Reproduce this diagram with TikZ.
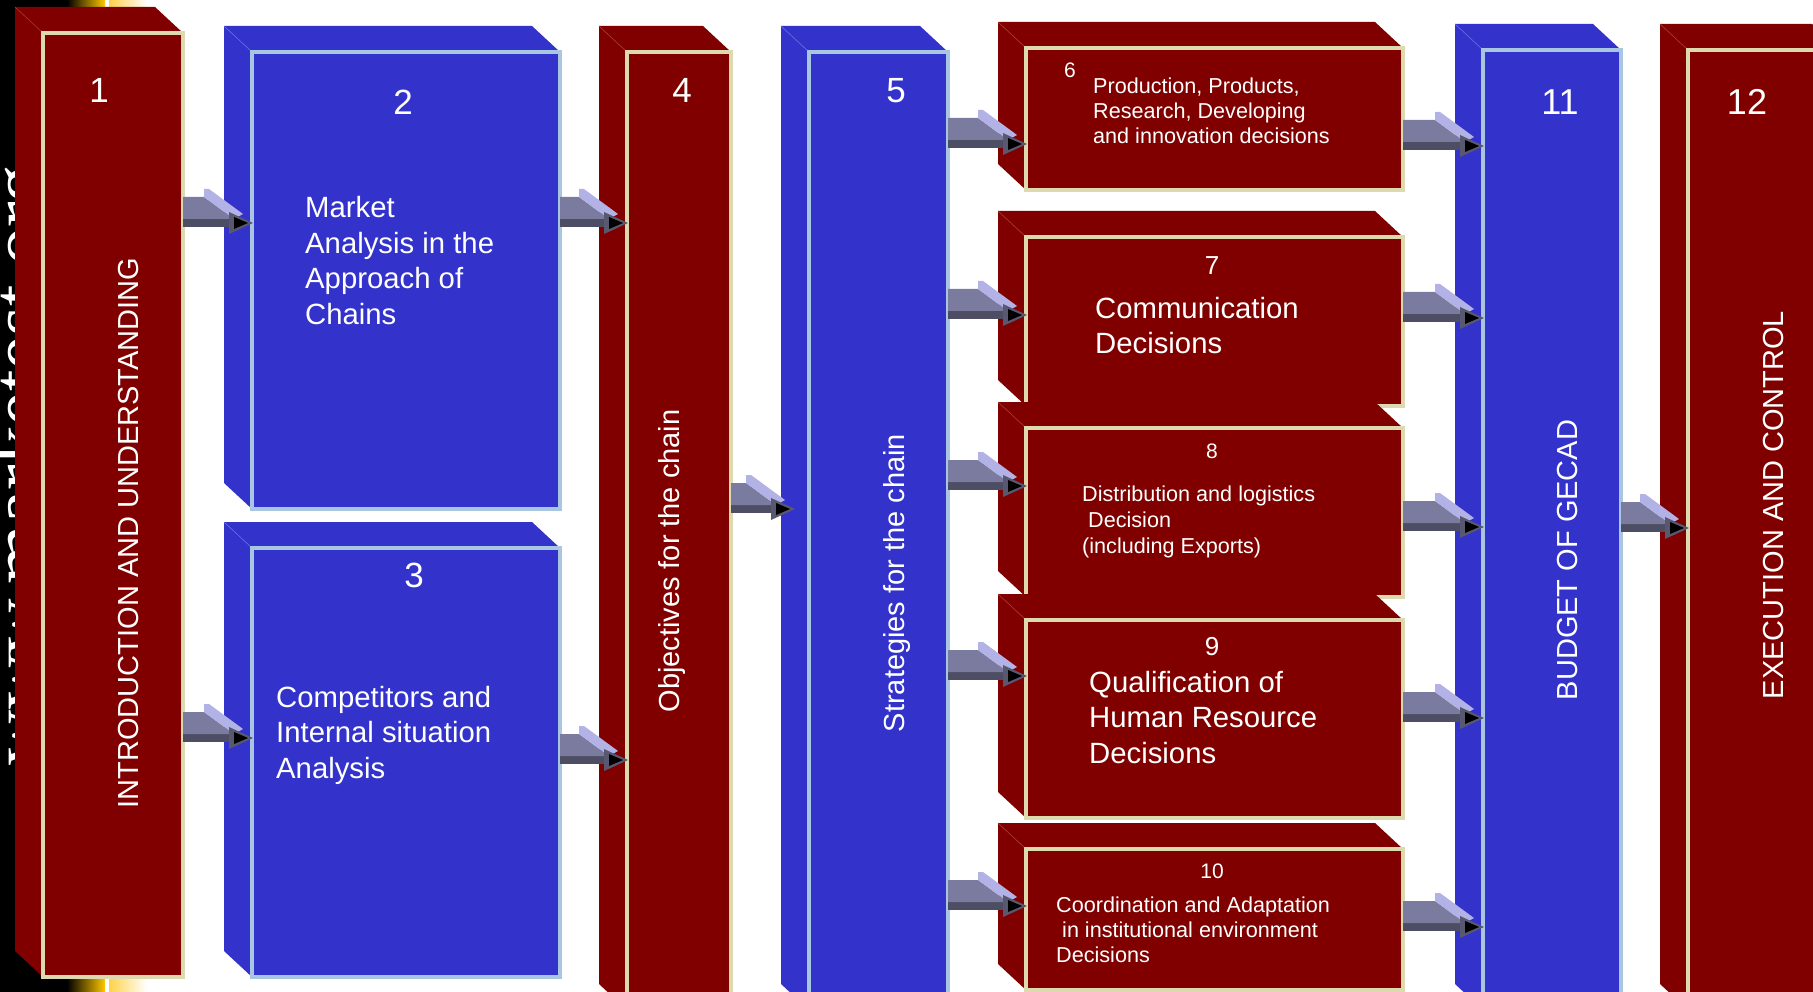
\documentclass[tikz,border=0pt]{standalone}
\usepackage{fontspec}
\setmainfont{Liberation Sans}
\newfontfamily\wmfont{Liberation Serif}
\usetikzlibrary{calc}
\definecolor{mar}{HTML}{800000}
\definecolor{blu}{HTML}{3333CC}
\definecolor{beige}{HTML}{DEDAB0}
\definecolor{lblue}{HTML}{A8C6E2}
\definecolor{marline}{HTML}{A83A30}
\definecolor{bluline}{HTML}{6A6AE0}
\definecolor{arrbody}{HTML}{7B7BA0}
\definecolor{arrlight}{HTML}{B2B2E6}
\definecolor{arrdark}{HTML}{4D4D63}
\definecolor{arrhead}{HTML}{585870}
\definecolor{yel}{HTML}{FFC800}
\definecolor{yel2}{HTML}{FFD24A}
\tikzset{
  marface/.style={fill=mar},
  bluface/.style={fill=blu},
  maredge/.style={draw=marline, line width=0.6pt},
  bluedge/.style={draw=bluline, line width=0.6pt},
  marfront/.style={rectangle, fill=mar, draw=beige, line width=4pt, inner sep=0pt, outer sep=0pt},
  blufront/.style={rectangle, fill=blu, draw=lblue, line width=4pt, inner sep=0pt, outer sep=0pt},
  bignum/.style={text=white, inner sep=0pt, anchor=base, font=\fontsize{35}{40}\selectfont},
  midnum/.style={text=white, inner sep=0pt, anchor=base, font=\fontsize{26}{30}\selectfont},
  smallnum/.style={text=white, inner sep=0pt, anchor=base, font=\fontsize{21}{25}\selectfont},
  lbl/.style={text=white, inner sep=0pt, anchor=base west, font=\fontsize{29.3}{35}\selectfont},
  slbl/.style={text=white, inner sep=0pt, anchor=base west, font=\fontsize{21.6}{25}\selectfont},
  vlbl/.style={text=white, inner sep=0pt, rotate=90, anchor=base, font=\fontsize{29}{35}\selectfont},
}
% cuboid: name, x1, y1, x2, y2 (front face), kind (mar/blu)
\newcommand\cbox[6]{%
  \fill[#6face] (#2,#3) -- ({#2-28},{#3-26}) -- ({#4-28},{#3-26}) -- (#4,#3) -- cycle;
  \fill[#6face] (#2,#3) -- ({#2-28},{#3-26}) -- ({#2-28},{#5-26}) -- (#2,#5) -- cycle;
  \draw[#6edge] ({#2-28},{#3-26}) -- (#2,#3);
  \node[#6front, minimum width={#4-#2}, minimum height={#5-#3}, anchor=north west] (#1) at (#2,#3) {};
}
% grey 3D arrow from tail point to tip point (same height)
\newcommand\grar[2]{%
  \path let \p1=(#1), \p2=(#2) in coordinate (aS) at (\x1,\y2) coordinate (aT) at (\x2,\y2);
  \fill[arrdark] ([shift={(0,-4)}]aS) rectangle ([shift={(-16,4)}]aT);
  \fill[arrbody] ([shift={(0,-26)}]aS) -- ([shift={(-48,-26)}]aT) -- ([shift={(-18,-4)}]aT) -- ([shift={(0,-4)}]aS) -- cycle;
  \fill[arrlight] ([shift={(-48,-34)}]aT) -- ([shift={(-43,-34)}]aT) -- ([shift={(-9,-9)}]aT) -- ([shift={(-18,-4)}]aT) -- ([shift={(-48,-26)}]aT) -- cycle;
  \fill[arrhead] ([shift={(-23,-11)}]aT) -- ([shift={(1,0)}]aT) -- ([shift={(-23,11)}]aT) -- cycle;
  \fill[black] ([shift={(-18,-6)}]aT) -- ([shift={(-4,0)}]aT) -- ([shift={(-18,6)}]aT) -- cycle;
}
\begin{document}
\begin{tikzpicture}[x=1pt,y=-1pt]
\useasboundingbox (0,0) rectangle (1813,992);
\clip (0,0) rectangle (1813,992);
\fill[white] (0,0) rectangle (1813,992);
% slide background bands
\fill[black] (0,0) rectangle (67,992);
\shade[left color=black, right color=yel] (67,0) rectangle (105,992);
\shade[left color=yel2, right color=white] (109,0) rectangle (147,992);
\node[rotate=90, anchor=base, text=white, inner sep=0pt, font=\wmfont\fontsize{77}{80}\selectfont] (wm) at (44,465) {www.marketest.org};
% boxes
\cbox{f1}{43}{33}{183}{977}{mar}
\cbox{f2}{252}{52}{560}{509}{blu}
\cbox{f3}{252}{548}{560}{977}{blu}
\cbox{f4}{627}{52}{731}{1010}{mar}
\cbox{f5}{809}{52}{948}{1010}{blu}
\cbox{f6}{1026}{48}{1403}{190}{mar}
\cbox{f7}{1026}{237}{1403}{406}{mar}
\cbox{f8}{1026}{428}{1403}{597}{mar}
\cbox{f9}{1026}{620}{1403}{818}{mar}
\cbox{f10}{1026}{849}{1403}{990}{mar}
\cbox{f11}{1483}{50}{1621}{1010}{blu}
\cbox{f12}{1688}{50}{1840}{1010}{mar}
% texts
\node[bignum] (n1) at (99,103) {1};
\node[vlbl] (v1) at (138,533) {INTRODUCTION AND UNDERSTANDING};
\node[bignum] (n2) at (403,115) {2};
\node[lbl] (t2a) at (305,218) {Market};
\node[lbl] (t2b) at (305,253.5) {Analysis in the};
\node[lbl] (t2c) at (305,289) {Approach of};
\node[lbl] (t2d) at (305,324.5) {Chains};
\node[bignum] (n3) at (414,587) {3};
\node[lbl] (t3a) at (276,707) {Competitors and};
\node[lbl] (t3b) at (276,742.5) {Internal situation};
\node[lbl] (t3c) at (276,778) {Analysis};
\node[bignum] (n4) at (682,103) {4};
\node[vlbl] (v4) at (679,561) {Objectives for the chain};
\node[bignum] (n5) at (896,103) {5};
\node[vlbl] (v5) at (904,583) {Strategies for the chain};
\node[smallnum] (n6) at (1070,78) {6};
\node[slbl] (t6a) at (1093,94) {Production, Products,};
\node[slbl] (t6b) at (1093,119) {Research, Developing};
\node[slbl] (t6c) at (1093,144) {and innovation decisions};
\node[midnum] (n7) at (1212,275) {7};
\node[lbl] (t7a) at (1095,319) {Communication};
\node[lbl] (t7b) at (1095,354) {Decisions};
\node[smallnum] (n8) at (1212,458) {8};
\node[slbl] (t8a) at (1082,501) {Distribution and logistics};
\node[slbl] (t8b) at (1088,527) {Decision};
\node[slbl] (t8c) at (1082,553) {(including Exports)};
\node[midnum] (n9) at (1212,655) {9};
\node[lbl] (t9a) at (1089,692) {Qualification of};
\node[lbl] (t9b) at (1089,727) {Human Resource};
\node[lbl] (t9c) at (1089,763) {Decisions};
\node[smallnum] (n10) at (1212,878) {10};
\node[slbl] (t10a) at (1056,912) {Coordination and Adaptation};
\node[slbl] (t10b) at (1062,937) {in institutional environment};
\node[slbl] (t10c) at (1056,962) {Decisions};
\node[bignum, font=\fontsize{36}{40}\selectfont] (n11) at (1560,115) {11};
\node[vlbl] (v11) at (1577,560) {BUDGET OF GECAD};
\node[bignum, font=\fontsize{36}{40}\selectfont] (n12) at (1747,115) {12};
\node[vlbl] (v12) at (1783,505) {EXECUTION AND CONTROL};
% arrows
\grar{f1.east |- 0,223}{f2.west |- 0,223}
\grar{f1.east |- 0,738}{f3.west |- 0,738}
\grar{f2.east |- 0,223}{f4.west |- 0,223}
\grar{f3.east |- 0,760}{f4.west |- 0,760}
\grar{f4.east |- 0,509}{$(f5.west |- 0,509)+(-15,0)$}
\grar{f5.east |- 0,144}{f6.west |- 0,144}
\grar{f5.east |- 0,315}{f7.west |- 0,315}
\grar{f5.east |- 0,486}{f8.west |- 0,486}
\grar{f5.east |- 0,676}{f9.west |- 0,676}
\grar{f5.east |- 0,906}{f10.west |- 0,906}
\grar{f6.east |- 0,146}{f11.west |- 0,146}
\grar{f7.east |- 0,318}{f11.west |- 0,318}
\grar{f8.east |- 0,527}{f11.west |- 0,527}
\grar{f9.east |- 0,718}{f11.west |- 0,718}
\grar{f10.east |- 0,927}{f11.west |- 0,927}
\grar{f11.east |- 0,528}{f12.west |- 0,528}
\end{tikzpicture}
\end{document}
